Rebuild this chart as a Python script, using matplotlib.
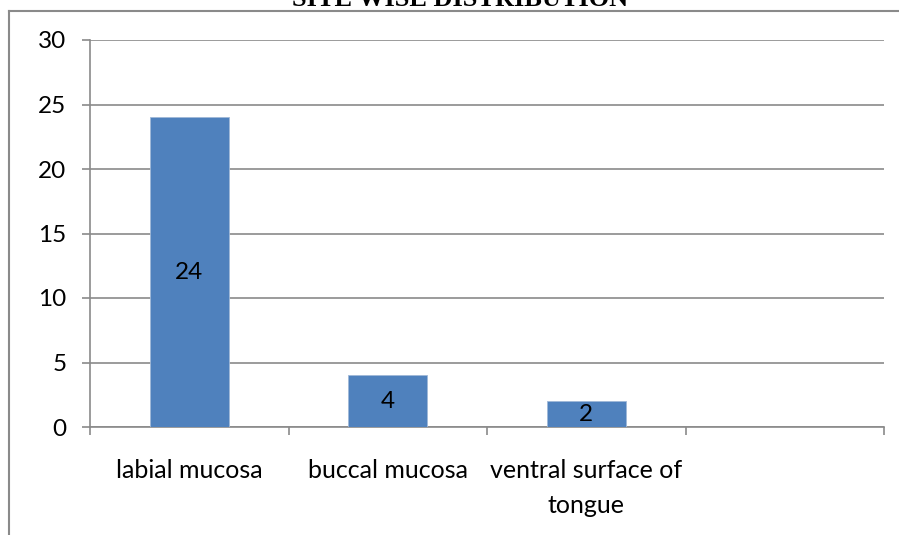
import matplotlib.pyplot as plt
from matplotlib.lines import Line2D

# site-wise counts
sites = ["labial mucosa", "buccal mucosa", "ventral surface of\ntongue"]
counts = [24, 4, 2]
n_slots = 4  # category axis keeps one empty slot on the right
y_ticks = [0, 5, 10, 15, 20, 25, 30]

plt.rcParams.update({'font.family': ['Lato', 'DejaVu Sans']})
grey = "#8a8a8a"
bar_blue = "#4f81bd"

fig = plt.figure(figsize=(8.99, 5.35), dpi=100)
ax = fig.add_axes([90/899, 1 - 427/535, (884 - 90)/899, (427 - 40)/535])

pos = [i + 0.5 for i in range(len(sites))]
bars = ax.bar(pos, counts, width=0.4, color=bar_blue, edgecolor="#9fb8d8", linewidth=0.6, zorder=3)
for b, v in zip(bars, counts):
    ax.text(b.get_x() + b.get_width()/2, v/2, str(v), ha="center", va="center",
            fontsize=17.5, color="black", zorder=4)

ax.set_xlim(0, n_slots)
ax.set_ylim(0, 30)
ax.set_yticks(y_ticks)
ax.yaxis.grid(True, color=grey, linewidth=1.2, zorder=0)

# boundary ticks between categories, labels centred in each slot
ax.set_xticks(range(n_slots + 1))
ax.set_xticklabels([])
ax.set_xticks(pos, minor=True)
ax.set_xticklabels(sites, minor=True, fontsize=18, linespacing=1.65)
ax.tick_params(axis="x", which="major", direction="out", length=6, width=1.2, color=grey)
ax.tick_params(axis="x", which="minor", length=0, pad=23)
ax.tick_params(axis="y", direction="out", length=6, width=1.2, color=grey, pad=11, labelsize=17.5)

for s in ["top", "right"]:
    ax.spines[s].set_visible(False)
for s in ["left", "bottom"]:
    ax.spines[s].set_color(grey)
    ax.spines[s].set_linewidth(1.2)

# outer chart frame (left and top edges)
fig.add_artist(Line2D([9/899, 9/899], [0, 1 - 11/535], color=grey, linewidth=1.5))
fig.add_artist(Line2D([9/899, 1], [1 - 11/535, 1 - 11/535], color=grey, linewidth=1.5))

fig.text(460/899, 1 - 6/535, "SITE WISE DISTRIBUTION", ha="center", va="baseline",
         fontsize=19, fontweight="bold", family="Liberation Serif")

fig.savefig("out.png", dpi=100)
